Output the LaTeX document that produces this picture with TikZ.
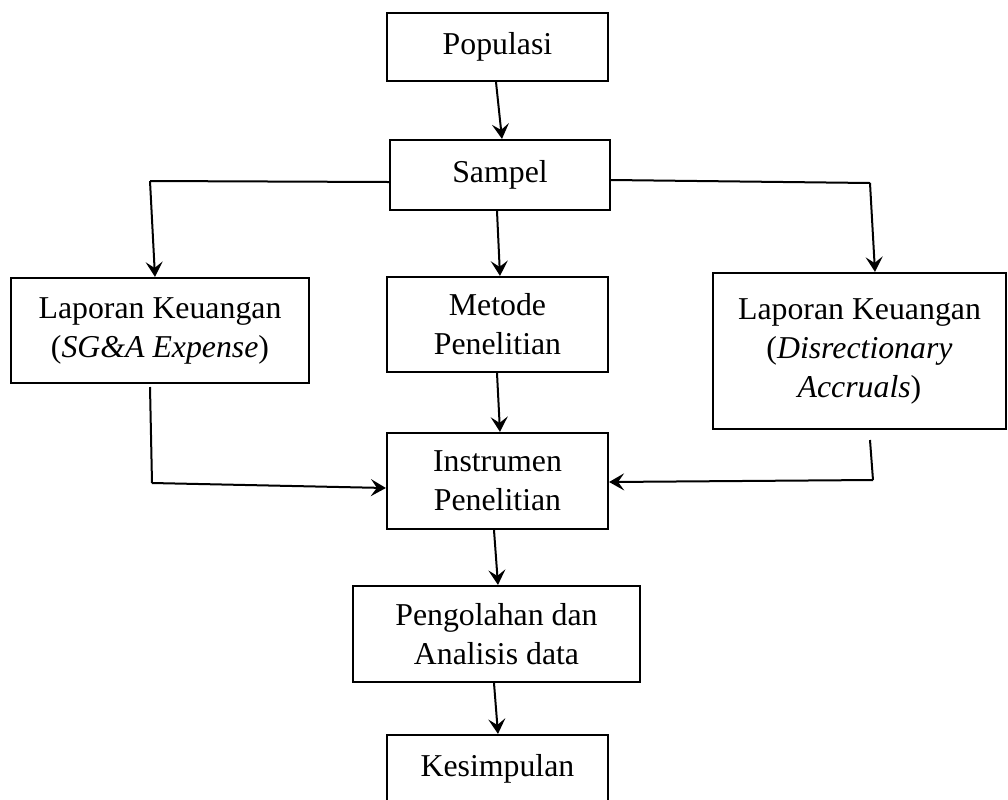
\documentclass[tikz,border=0pt]{standalone}
\usepackage{fontspec}
\setmainfont{Liberation Serif}
\usetikzlibrary{arrows.meta}
\begin{document}
\begin{tikzpicture}[x=0.5pt,y=-0.5pt,
  box/.style={draw, line width=1.1pt, inner sep=0pt, align=center,
    font=\fontsize{15.9}{19.5}\selectfont},
  conn/.style={line width=1pt},
  arr/.style={conn, -{Stealth[length=7.5pt,width=8.5pt,inset=3pt]}}]
\useasboundingbox (0,0) rectangle (1008,799);
\clip (0,0) rectangle (1008,799);
% boxes
\node[box, minimum width=110.5pt, minimum height=34pt] (pop) at (497.5,47) {Populasi};
\node[box, minimum width=110pt, minimum height=35pt] (sam) at (500,175) {Sampel};
\node[box, minimum width=149pt, minimum height=52.5pt] (lk1) at (160,330.5) {Laporan Keuangan\\(\textit{SG\&A Expense})};
\node[box, minimum width=110.5pt, minimum height=47.5pt] (met) at (497.5,324.5) {Metode\\Penelitian};
\node[box, minimum width=146.5pt, minimum height=78pt] (lk2) at (859.5,351) {Laporan Keuangan\\(\textit{Disrectionary}\\\textit{Accruals})};
\node[box, minimum width=110.5pt, minimum height=48pt] (ins) at (497.5,481) {Instrumen\\Penelitian};
\node[box, minimum width=143.5pt, minimum height=48pt] (pen) at (496.5,634) {Pengolahan dan\\Analisis data};
\node[box, minimum width=110.5pt, minimum height=34pt] (kes) at (497.5,769) {Kesimpulan};
% free ends
\coordinate (lt) at (150,181);
\coordinate (rt) at (870,183);
\coordinate (lb1) at (150,387);
\coordinate (lb2) at (152,483);
\coordinate (rb1) at (870,440);
\coordinate (rb2) at (873,480);
% connectors
\draw[arr] ([xshift=-0.75pt]pop.south) -- ([xshift=1pt]sam.north);
\draw[conn] ([yshift=-3.5pt]sam.west) -- (lt);
\draw[arr] (lt) -- ([xshift=-2.5pt]lk1.north);
\draw[arr] ([xshift=-1.5pt]sam.south) -- ([xshift=1.25pt]met.north);
\draw[conn] ([yshift=-2.5pt]sam.east) -- (rt);
\draw[arr] (rt) -- ([xshift=7.75pt]lk2.north);
\draw[conn] (lb1) -- (lb2);
\draw[arr] (lb2) -- ([yshift=-3.5pt]ins.west);
\draw[arr] ([xshift=-0.25pt]met.south) -- ([xshift=1.25pt]ins.north);
\draw[conn] (rb1) -- (rb2);
\draw[arr] (rb2) -- ([yshift=-0.5pt]ins.east);
\draw[arr] ([xshift=-1.75pt]ins.south) -- ([xshift=0.75pt]pen.north);
\draw[arr] ([xshift=-1.25pt]pen.south) -- ([xshift=0.25pt]kes.north);
\end{tikzpicture}
\end{document}
